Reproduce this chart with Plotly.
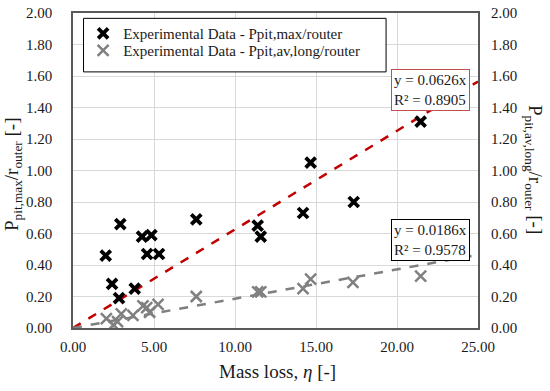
import plotly.graph_objects as go

# ---- data ----
max_x = [2.02, 2.92, 2.41, 2.84, 3.81, 4.26, 4.84, 4.57, 5.31, 7.61, 11.40, 11.59, 14.20, 14.67, 17.33, 21.46]
max_y = [0.46, 0.66, 0.28, 0.19, 0.25, 0.58, 0.59, 0.47, 0.47, 0.69, 0.65, 0.58, 0.73, 1.05, 0.80, 1.31]

av_x = [2.06, 2.50, 2.75, 2.98, 3.70, 4.32, 4.55, 4.73, 5.25, 7.61, 11.40, 11.59, 14.20, 14.67, 17.28, 21.46]
av_y = [0.06, 0.02, 0.04, 0.09, 0.08, 0.14, 0.13, 0.10, 0.15, 0.20, 0.23, 0.23, 0.25, 0.31, 0.29, 0.33]

trend_x = [0, 25]
slope_max = 0.0626
slope_av = 0.0186
r2_max = 0.8905
r2_av = 0.9578

x_ticks = [0, 5, 10, 15, 20, 25]
y_ticks = [0, 0.2, 0.4, 0.6, 0.8, 1.0, 1.2, 1.4, 1.6, 1.8, 2.0]

FONT = "Liberation Serif, Times New Roman, serif"
TXT = "#1a1a1a"

fig = go.Figure()

fig.add_trace(go.Scatter(
    x=trend_x, y=[slope_max * v for v in trend_x], mode="lines",
    line=dict(color="#C00000", width=2.5, dash="dash"), showlegend=False, hoverinfo="skip"))
fig.add_trace(go.Scatter(
    x=trend_x, y=[slope_av * v for v in trend_x], mode="lines", yaxis="y2",
    line=dict(color="#7f7f7f", width=2.5, dash="dash"), showlegend=False, hoverinfo="skip"))

fig.add_trace(go.Scatter(
    x=max_x, y=max_y, mode="markers", name="Experimental Data - Ppit,max/router",
    legend="legend",
    marker=dict(symbol="x-thin", size=10, line=dict(color="black", width=3.8), color="black")))
fig.add_trace(go.Scatter(
    x=av_x, y=av_y, mode="markers", yaxis="y2", name="Experimental Data - Ppit,av,long/router",
    legend="legend2",
    marker=dict(symbol="x-thin", size=11, line=dict(color="#808080", width=2.5), color="#808080")))

axis_common = dict(
    range=[0, 2], tickvals=y_ticks, tickformat=".2f",
    tickfont=dict(family=FONT, size=15, color=TXT),
    fixedrange=True, zeroline=False, automargin=False, ticklabeloverflow="allow",
)

legend_common = dict(
    xanchor="left", yanchor="top", bgcolor="rgba(0,0,0,0)", borderwidth=0,
    font=dict(family=FONT, size=15, color=TXT),
)

fig.update_layout(
    width=550, height=391,
    margin=dict(l=73, r=72, t=13, b=63),
    paper_bgcolor="white", plot_bgcolor="white",
    font=dict(family=FONT, size=15, color=TXT),
    xaxis=dict(
        range=[0, 25], tickvals=x_ticks, tickformat=".2f",
        tickfont=dict(family=FONT, size=15, color=TXT),
        showgrid=True, gridcolor="#d9d9d9", gridwidth=1,
        showline=True, linecolor="#595959", linewidth=1.5, mirror=True,
        zeroline=False, ticks="", ticklabelstandoff=4, automargin=False, fixedrange=True,
        ticklabeloverflow="allow",
    ),
    yaxis=dict(
        **axis_common, showgrid=True, gridcolor="#d9d9d9", gridwidth=1,
        showline=True, linecolor="#595959", linewidth=1.5, mirror=True,
        ticks="", ticklabelstandoff=16,
    ),
    yaxis2=dict(
        **axis_common, overlaying="y", side="right", showgrid=False,
        showline=False, ticks="", ticklabelstandoff=12,
    ),
    showlegend=True,
    legend=dict(x=0.025, y=0.987, **legend_common),
    legend2=dict(x=0.025, y=0.933, **legend_common),
    shapes=[dict(
        type="rect", xref="paper", yref="paper",
        x0=0.026, x1=0.773, y0=0.813, y1=0.983,
        line=dict(color="black", width=1), fillcolor="white", layer="above",
    )],
    annotations=[
        dict(text=f"y = {slope_max}x<br>R² = {r2_max}", x=22.08, y=1.51, xref="x", yref="y",
             showarrow=False, font=dict(family=FONT, size=15, color=TXT),
             bgcolor="white", bordercolor="#C0504D", borderwidth=1, borderpad=2, align="left"),
        dict(text=f"y = {slope_av}x<br>R² = {r2_av}", x=22.08, y=0.56, xref="x", yref="y",
             showarrow=False, font=dict(family=FONT, size=15, color=TXT),
             bgcolor="white", bordercolor="black", borderwidth=1, borderpad=2, align="left"),
        dict(text="Mass loss, <i>η</i> [-]", x=0.505, y=-0.139, xref="paper", yref="paper",
             xanchor="center", yanchor="middle", showarrow=False,
             font=dict(family=FONT, size=19, color=TXT)),
        dict(text="P<sub>pit,max</sub>/r<sub>outer</sub> [-]", x=-0.148, y=0.489,
             xref="paper", yref="paper", xanchor="center", yanchor="middle", textangle=-90,
             showarrow=False, font=dict(family=FONT, size=19, color=TXT)),
        dict(text="P<sub>pit,av,long</sub>/r<sub>outer</sub> [-]", x=1.138, y=0.502,
             xref="paper", yref="paper", xanchor="center", yanchor="middle", textangle=90,
             showarrow=False, font=dict(family=FONT, size=19, color=TXT)),
    ],
)

# remove the default 8px page margin so the figure sits at the window's corner
fig.write_html("out.html", config={"displayModeBar": False},
               post_script="document.body.style.margin='0px';")
